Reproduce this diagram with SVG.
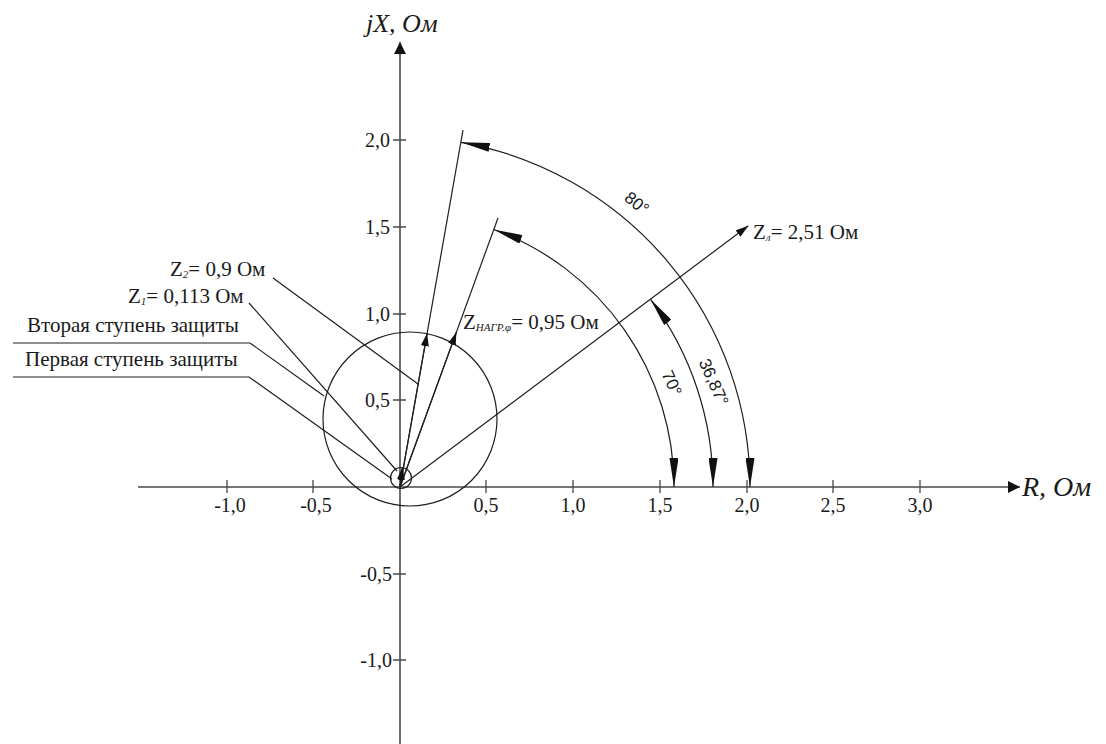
<svg xmlns="http://www.w3.org/2000/svg" width="1106" height="744" viewBox="0 0 1106 744">
<style>
.ax{stroke:#4a4a4a;stroke-width:1.6;fill:none}
.tk{stroke:#4a4a4a;stroke-width:1.3;fill:none}
.ln{stroke:#1e1e1e;stroke-width:1.2;fill:none}
.arc{stroke:#1e1e1e;stroke-width:1.2;fill:none;marker-start:url(#la);marker-end:url(#la)}
.vec{stroke:#1e1e1e;stroke-width:1.2;fill:none;marker-end:url(#sa)}
.t{font-family:"Liberation Serif","Times New Roman",serif;font-size:20px;fill:#1a1a1a}
.lb{font-family:"Liberation Serif","Times New Roman",serif;font-size:21px;fill:#1a1a1a}
.sub{font-style:italic;font-size:11px}
.axl{font-family:"Liberation Serif","Times New Roman",serif;font-style:italic;font-size:26px;fill:#1a1a1a}
.ang{font-family:"Liberation Sans",Arial,sans-serif;font-size:17px;fill:#1a1a1a;text-anchor:middle}
</style>
<defs>
<marker id="la" viewBox="0 0 29 9" refX="29" refY="4.5" markerWidth="29" markerHeight="9" markerUnits="userSpaceOnUse" orient="auto-start-reverse">
<path d="M0,0 L29,4.5 L0,9 z" fill="#111"/>
</marker>
<marker id="sa" viewBox="0 0 13 8" refX="13" refY="4" markerWidth="13" markerHeight="8" markerUnits="userSpaceOnUse" orient="auto">
<path d="M0,0 L13,4 L0,8 z" fill="#111"/>
</marker>
<marker id="axa" viewBox="0 0 12 12" refX="12" refY="6" markerWidth="12" markerHeight="12" markerUnits="userSpaceOnUse" orient="auto">
<path d="M0,0 L12,6 L0,12 z" fill="#111"/>
</marker>
</defs>

<g id="axes">
<path class="ax" d="M138,487 L1020,487" marker-end="url(#axa)"/>
<path class="ax" d="M400,744 L400,42" marker-end="url(#axa)"/>
<path class="tk" d="M227,480 V493 M313,480 V493 M486,480 V493 M573,480 V493 M660,480 V493 M747,480 V493 M833,480 V493 M920,480 V493"/>
<path class="tk" d="M393,140 H406 M393,227 H406 M393,314 H406 M393,400 H406 M393,574 H406 M393,660 H406"/>
<g class="t" text-anchor="middle">
<text x="230" y="512">-1,0</text>
<text x="316" y="512">-0,5</text>
<text x="486" y="512">0,5</text>
<text x="573" y="512">1,0</text>
<text x="660" y="512">1,5</text>
<text x="747" y="512">2,0</text>
<text x="833" y="512">2,5</text>
<text x="920" y="512">3,0</text>
</g>
<g class="t" text-anchor="end">
<text x="390" y="147">2,0</text>
<text x="390" y="234">1,5</text>
<text x="390" y="321">1,0</text>
<text x="390" y="407">0,5</text>
<text x="392" y="581">-0,5</text>
<text x="392" y="667">-1,0</text>
</g>
<text class="axl" x="366" y="32">jX, Ом</text>
<text class="axl" x="1022" y="496" style="font-size:28px">R, Ом</text>
</g>

<g id="zone-2">
<circle class="ln" cx="410" cy="419" r="87"/>
</g>
<g id="zone-1">
<circle class="ln" cx="401" cy="478" r="10.5"/>
</g>

<g id="connectors">
<path class="ln" d="M400,487 L463,130"/>
<path class="ln" d="M400,487 L498,218"/>
<path class="vec" d="M400,487 L748.4,225.7"/>
<path class="vec" d="M400,487 L427.1,333.2"/>
<path class="vec" d="M400,487 L456.4,332.1"/>
<path class="vec" d="M400,487 L402.5,467"/>
<path class="arc" d="M750,487 A350,350 0 0 0 460.8,142.3"/>
<path class="arc" d="M713,487 A313,313 0 0 0 650.4,299.2"/>
<path class="arc" d="M674,487 A274,274 0 0 0 493.7,229.5"/>
<path class="ln" d="M273,278 L418,384"/>
<path class="ln" d="M249,303 L397,471"/>
<path class="ln" d="M13,343 L250,343 L324,396"/>
<path class="ln" d="M13,377 L249,377 L392,479"/>
</g>

<g id="angle-labels">
<text class="ang" transform="translate(637,203) rotate(38)" y="6">80°</text>
<text class="ang" transform="translate(714,382) rotate(66)" y="6">36,87°</text>
<text class="ang" transform="translate(672,383) rotate(66)" y="6">70°</text>
</g>

<g id="label-z2">
<text class="lb" x="170" y="276">Z<tspan class="sub" dy="2">2</tspan><tspan dy="-2">= 0,9 Ом</tspan></text>
</g>
<g id="label-z1">
<text class="lb" x="128" y="303">Z<tspan class="sub" dy="2">1</tspan><tspan dy="-2">= 0,113 Ом</tspan></text>
</g>
<g id="label-stage2">
<text class="lb" x="27" y="332">Вторая ступень защиты</text>
</g>
<g id="label-stage1">
<text class="lb" x="25" y="366">Первая ступень защиты</text>
</g>
<g id="label-zl">
<text class="lb" x="753" y="239">Z<tspan class="sub" dy="2">л</tspan><tspan dy="-2">= 2,51 Ом</tspan></text>
</g>
<g id="label-zload">
<text class="lb" x="463" y="329">Z<tspan class="sub" dy="2">НАГР.φ</tspan><tspan dy="-2">= 0,95 Ом</tspan></text>
</g>
</svg>
